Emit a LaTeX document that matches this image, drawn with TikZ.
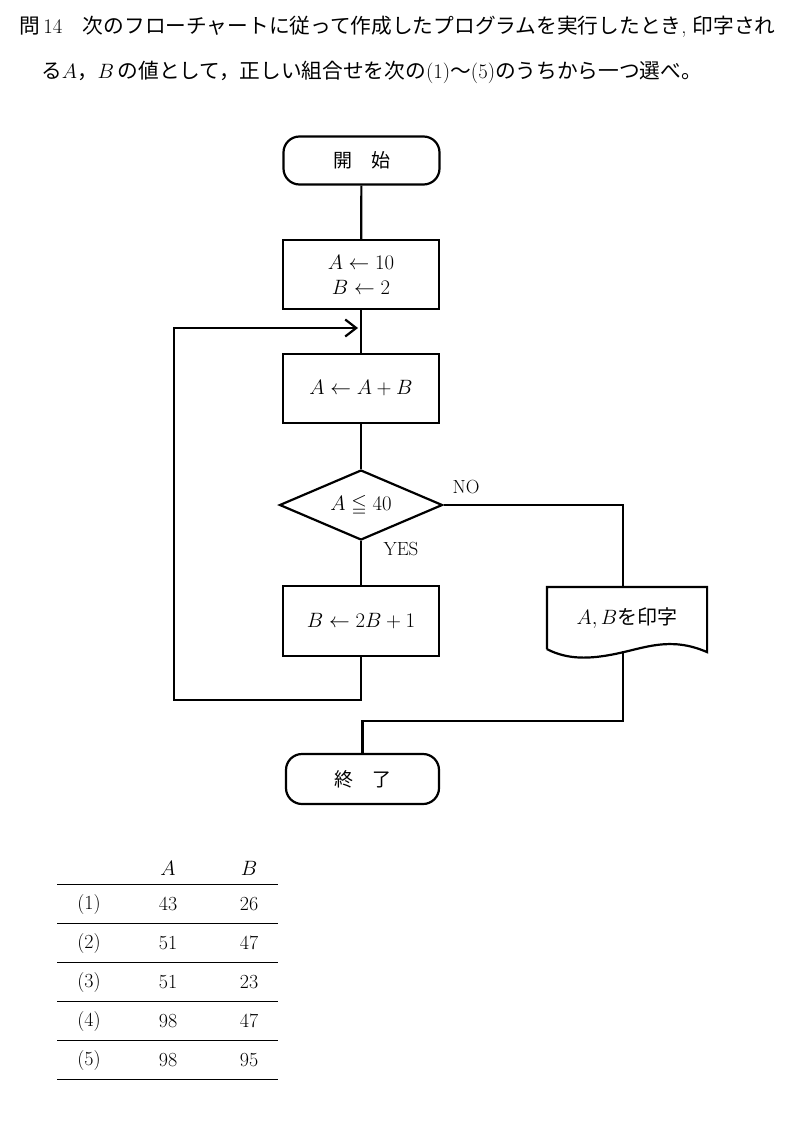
\documentclass[tikz,border=0pt]{standalone}
\usepackage{amsmath,amssymb}
\usepackage{fontspec}
\newfontfamily\jp{Noto Sans CJK JP}
\usetikzlibrary{shapes.geometric,arrows.meta}
\begin{document}
\begin{tikzpicture}[x=1pt,y=-1pt,
  line width=2.2pt,
  every node/.style={font=\fontsize{20}{28}\selectfont},
  proc/.style={draw,rectangle,minimum width=156pt,minimum height=69pt,inner sep=0pt,align=center},
  term/.style={draw,rectangle,rounded corners=16pt,minimum width=156pt,minimum height=48pt,inner sep=0pt,font=\jp\fontsize{19}{22}\selectfont},
  dec/.style={draw,diamond,aspect=2.3,minimum width=163pt,minimum height=70pt,inner sep=0pt},
  lbl/.style={font=\fontsize{19}{22}\selectfont,inner sep=0pt},
  ttl/.style={anchor=west,inner sep=0pt,font=\fontsize{20.7}{24}\selectfont},
  tab/.style={inner sep=0pt,font=\fontsize{20}{24}\selectfont},
  rule/.style={line width=0.9pt}
]
\useasboundingbox[fill=white] (0,0) rectangle (787,1129);

% title
\node[ttl] (t1) at (18,27) {{\jp 問}\,14{\jp 　次のフローチャートに従って作成したプログラムを実行したとき}{,}\ {\jp 印字され}};
\node[ttl] (t2) at (40,72) {{\jp る}$A${\jp ，}$B$\,{\jp の値として，正しい組合せを次の}(1){\jp ～}(5){\jp のうちから一つ選べ。}};

% flowchart
\node[term] (start) at (361.5,160.5) {開　始};
\node[proc] (init) at (361,274.5) {$A\leftarrow 10$\\[-3pt]$B\leftarrow 2$};
\node[proc] (add) at (361,388.5) {$A\leftarrow A+B$};
\node[dec] (cond) at (361,505) {$A\leqq 40$};
\node[proc,minimum height=70pt] (dbl) at (361,621) {$B\leftarrow 2B+1$};
\node[inner sep=0pt,minimum width=158pt,minimum height=60pt] (doc) at (627,618) {$A,B${\jp を印字}};
\draw (doc.south west) -- (doc.north west) -- (doc.north east) -- ([yshift=-3pt]doc.south east)
  .. controls (670,636) and (645,648) .. (615,654)
  .. controls (590,659) and (568,660) .. (doc.south west);
\node[term,minimum width=153pt,minimum height=50pt] (stop) at (362.5,779) {終　了};

\node[lbl] (no) at (466,487) {NO};
\node[lbl] (yes) at (401,549) {YES};

\coordinate (loopL) at (174,700);
\coordinate (entry) at (358,328);
\coordinate (docb) at (623,651);
\coordinate (docin) at (623,588);
\coordinate (mrg) at (stop.north |- 0,721);

\draw (start) -- (init);
\draw (init) -- (add);
\draw (add) -- (cond.north);
\draw (cond.south) -- (dbl);
\draw (cond.east) -| (docin);
\draw[-{Straight Barb[length=11pt,width=17pt,line width=2.2pt]}] (dbl.south) |- (loopL) |- (entry);
\draw (docb) |- (mrg) -- (stop.north);

% table
\node[tab] (hA) at (168,868) {$A$};
\node[tab] (hB) at (249,868) {$B$};
\foreach \y in {884,923,962,1001,1040,1079} \draw[rule] (57,\y) -- (278,\y);
\foreach \i/\a/\b [count=\k from 0] in {1/43/26,2/51/47,3/51/23,4/98/47,5/98/95} {
  \node[tab] (r\i) at (89,904+39*\k) {(\i)};
  \node[tab] (a\i) at (168,904+39*\k) {\a};
  \node[tab] (b\i) at (249,904+39*\k) {\b};
}
\end{tikzpicture}
\end{document}
